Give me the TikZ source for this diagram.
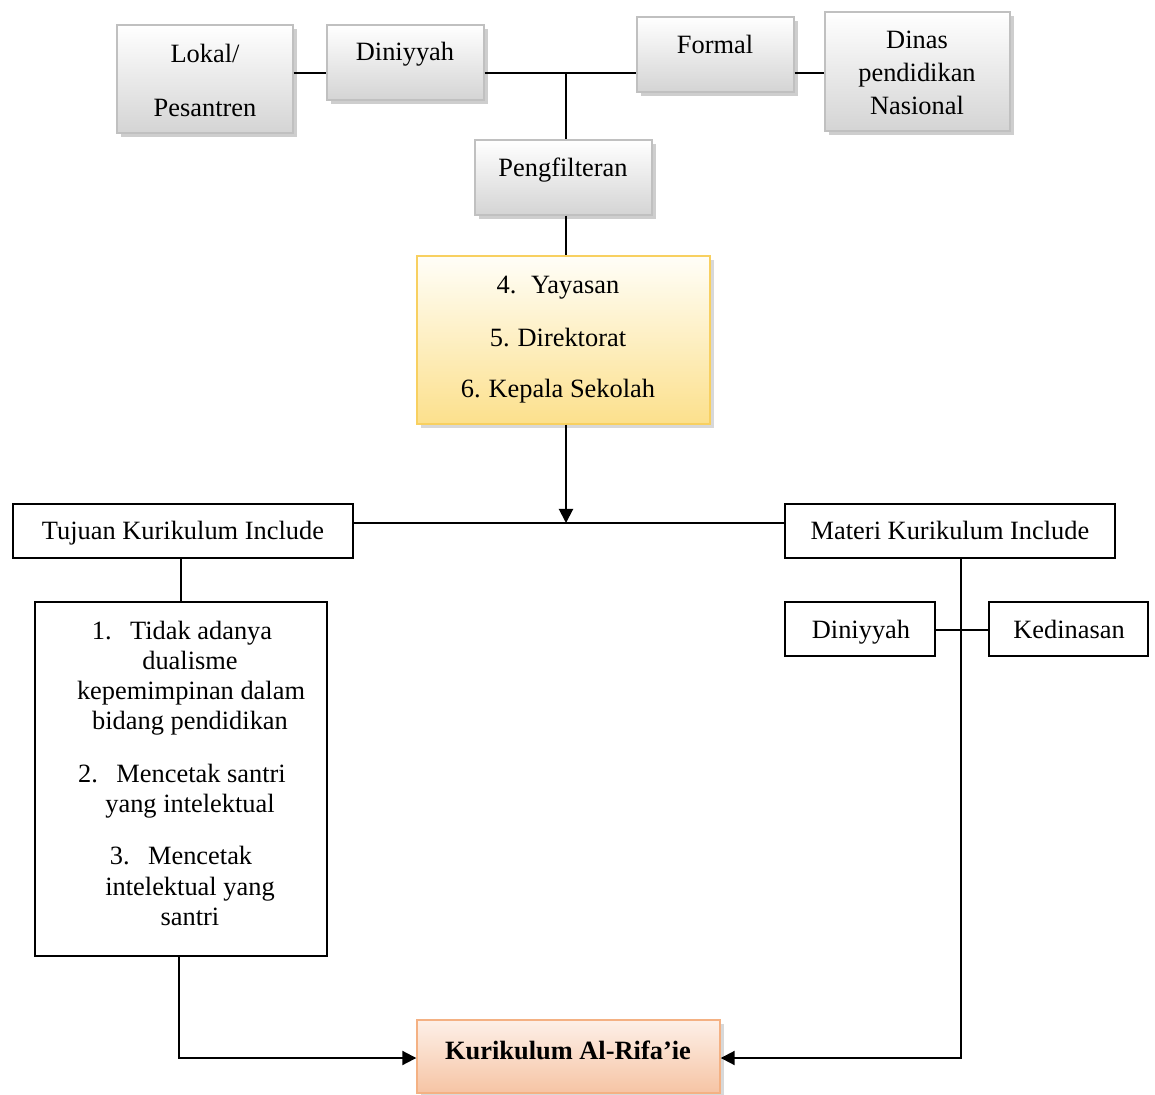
\documentclass[tikz,border=0pt]{standalone}
\usepackage{fontspec}
\setmainfont{Liberation Serif}
\usetikzlibrary{shadows,arrows.meta}
\definecolor{gborder}{RGB}{192,192,192}
\definecolor{gbottom}{RGB}{212,212,212}
\definecolor{ytop}{RGB}{255,254,248}
\definecolor{ybottom}{RGB}{252,224,140}
\definecolor{yborder}{RGB}{248,208,96}
\definecolor{otop}{RGB}{253,240,232}
\definecolor{obottom}{RGB}{246,196,164}
\definecolor{oborder}{RGB}{244,177,131}
\begin{document}
\begin{tikzpicture}[x=0.5pt,y=-0.5pt,
  font=\fontsize{13.2}{15}\selectfont,
  sz/.style 2 args={minimum width=#1*0.5pt,minimum height=#2*0.5pt,inner sep=0pt},
  graybox/.style={draw=gborder,line width=0.7pt,top color=white,bottom color=gbottom,
    drop shadow={shadow xshift=2pt,shadow yshift=-2pt,fill=black!38}},
  yelbox/.style={draw=yborder,line width=0.7pt,top color=ytop,bottom color=ybottom,
    drop shadow={shadow xshift=2pt,shadow yshift=-2pt,fill=black!30}},
  orbox/.style={draw=oborder,line width=0.7pt,top color=otop,bottom color=obottom,
    drop shadow={shadow xshift=2pt,shadow yshift=-2pt,fill=black!30}},
  plainbox/.style={draw=black,line width=0.7pt,fill=white},
  txt/.style={anchor=base,inner sep=0pt,yshift=-1.2pt},
  conn/.style={draw=black,line width=1pt},
  arr/.style={conn,-{Triangle[length=7pt,width=7pt]}}
]
\useasboundingbox (0,0) rectangle (1155,1095);

% boxes
\node[graybox,sz={176}{108}] (lokal) at (205,79) {};
\node[graybox,sz={157}{75}] (din1) at (405.5,62.5) {};
\node[graybox,sz={157}{75}] (formal) at (715.5,54.5) {};
\node[graybox,sz={185}{119}] (dinas) at (917.5,71.5) {};
\node[graybox,sz={177}{75}] (filter) at (563.5,177.5) {};
\node[yelbox,sz={293}{168}] (yay) at (563.5,340) {};
\node[plainbox,sz={340}{54}] (tujuan) at (183,531) {};
\node[plainbox,sz={330}{54}] (materi) at (950,531) {};
\node[plainbox,sz={292}{354}] (list) at (181,779) {};
\node[plainbox,sz={150}{54}] (din2) at (860,629) {};
\node[plainbox,sz={159}{54}] (kedin) at (1068.5,629) {};
\node[orbox,sz={303}{73}] (kur) at (568.5,1056.5) {};

% texts
\node[txt] (tlokal1) at (205,60) {Lokal/};
\node[txt] (tlokal2) at (205,114) {Pesantren};
\node[txt] (tdin1) at (405,58) {Diniyyah};
\node[txt] (tformal) at (715,51) {Formal};
\node[txt] (tdinas1) at (917,46) {Dinas};
\node[txt] (tdinas2) at (917,79) {pendidikan};
\node[txt] (tdinas3) at (917,112) {Nasional};
\node[txt] (tfilter) at (563,174) {Pengfilteran};
\node[txt] (ty1) at (558,291) {4.\hspace{0.55em}Yayasan};
\node[txt] (ty2) at (558,344) {5.\hspace{0.3em}Direktorat};
\node[txt] (ty3) at (558,395) {6.\hspace{0.3em}Kepala Sekolah};
\node[txt] (ttujuan) at (183,537) {Tujuan Kurikulum Include};
\node[txt] (tmateri) at (950,537) {Materi Kurikulum Include};
\node[txt] (tdin2) at (861,636) {Diniyyah};
\node[txt] (tkedin) at (1069,636) {Kedinasan};
\node[txt] (tl1) at (182,637) {1.\hspace{0.7em}Tidak adanya};
\node[txt] (tl2) at (190,667) {dualisme};
\node[txt] (tl3) at (191,697) {kepemimpinan dalam};
\node[txt] (tl4) at (190,727) {bidang pendidikan};
\node[txt] (tl5) at (182,780) {2.\hspace{0.7em}Mencetak santri};
\node[txt] (tl6) at (190,810) {yang intelektual};
\node[txt] (tl7) at (181,862) {3.\hspace{0.7em}Mencetak};
\node[txt] (tl8) at (190,893) {intelektual yang};
\node[txt] (tl9) at (190,923) {santri};
\node[txt,font=\fontsize{13.2}{15}\selectfont\bfseries] (tkur) at (568,1057) {Kurikulum Al-Rifa’ie};

% helper coordinates
\coordinate (hy) at (0,73);
\coordinate (j1) at (566,73);
\coordinate (hy2) at (566,523);
\coordinate (vl) at (181,0);
\coordinate (vl2) at (179,1058);
\coordinate (vr) at (961,1058);
\coordinate (hy3) at (0,630);

% connectors
\draw[conn] (lokal.east |- hy) -- (din1.west |- hy);
\draw[conn] (din1.east |- hy) -- (formal.west |- hy);
\draw[conn] (formal.east |- hy) -- (dinas.west |- hy);
\draw[conn] (j1) -- (j1 |- filter.north);
\draw[conn] (j1 |- filter.south) -- (j1 |- yay.north);
\draw[arr] (j1 |- yay.south) -- (hy2);
\draw[conn] (tujuan.east |- hy2) -- (materi.west |- hy2);
\draw[conn] (vl |- tujuan.south) -- (vl |- list.north);
\draw[arr] (vl2 |- list.south) -- (vl2) -- (kur.west |- vl2);
\draw[arr] (vr |- materi.south) -- (vr) -- (kur.east |- vr);
\draw[conn] (din2.east |- hy3) -- (kedin.west |- hy3);
\end{tikzpicture}
\end{document}
